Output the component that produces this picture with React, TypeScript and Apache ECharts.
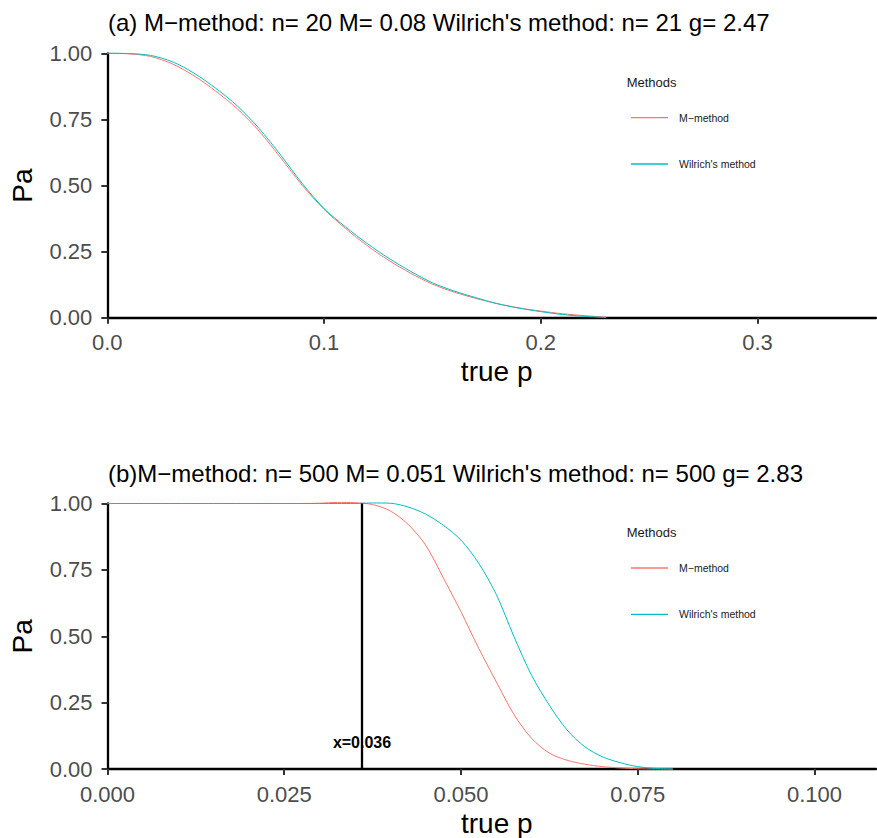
import React, { useEffect, useRef } from "react";
import * as echarts from "echarts";

// ---------- data ----------
const SERIES_NAMES = ["M\u2212method", "Wilrich's method"];
const COLORS = ["#F8766D", "#00BFC4"];

const TITLE_A = "(a) M\u2212method: n= 20 M= 0.08 Wilrich's method: n= 21 g= 2.47";
const TITLE_B = "(b)M\u2212method: n= 500 M= 0.051 Wilrich's method: n= 500 g= 2.83";
const LEGEND_TITLE = "Methods";
const X_NAME = "true p";
const Y_NAME = "Pa";

// panel (a)
const P_TOP = [0, 0.01, 0.02, 0.03, 0.04, 0.05, 0.06, 0.07, 0.08, 0.09, 0.1, 0.11, 0.12, 0.13, 0.14, 0.15, 0.16, 0.17, 0.18, 0.19, 0.2, 0.21, 0.22, 0.23];
const PA_TOP_M = [1.0, 0.998, 0.988, 0.96, 0.915, 0.857, 0.79, 0.706, 0.605, 0.5, 0.41, 0.337, 0.272, 0.216, 0.168, 0.127, 0.097, 0.073, 0.053, 0.037, 0.025, 0.015, 0.008, 0.002];
const PA_TOP_W = [1.0, 0.999, 0.992, 0.968, 0.925, 0.868, 0.801, 0.716, 0.615, 0.507, 0.413, 0.343, 0.28, 0.224, 0.175, 0.132, 0.101, 0.076, 0.053, 0.036, 0.023, 0.012, 0.005, 0.001];
const X_TICKS_TOP = [0, 0.1, 0.2, 0.3];
const X_MAX_TOP = 0.3547;

// panel (b)
const P_BOT = [0, 0.0025, 0.005, 0.0075, 0.01, 0.0125, 0.015, 0.0175, 0.02, 0.0225, 0.025, 0.0275, 0.03, 0.0325, 0.035, 0.0375, 0.04, 0.0425, 0.045, 0.0475, 0.05, 0.0525, 0.055, 0.0575, 0.06, 0.0625, 0.065, 0.0675, 0.07, 0.0725, 0.075, 0.0775, 0.08];
const PA_BOT_M = [1, 1, 1, 1, 1, 1, 1, 1, 1, 1, 1, 1, 1.001, 1.004, 1.003, 0.996, 0.972, 0.922, 0.843, 0.72, 0.592, 0.455, 0.328, 0.205, 0.115, 0.06, 0.033, 0.018, 0.009, 0.004, 0.001, 0, 0];
const PA_BOT_W = [1, 1, 1, 1, 1, 1, 1, 1, 1, 1, 1, 1, 1, 1, 1, 1.002, 1.001, 0.987, 0.96, 0.918, 0.862, 0.775, 0.657, 0.498, 0.352, 0.24, 0.147, 0.084, 0.046, 0.024, 0.009, 0.002, 0];
const X_TICKS_BOT = [0, 0.025, 0.05, 0.075, 0.1];
const X_MAX_BOT = 0.1087;
const VLINE_X = 0.036;
const VLINE_LABEL = "x=0.036";
const VLINE_LABEL_Y = 0.1;

const Y_TICKS = [0, 0.25, 0.5, 0.75, 1];

// ---------- helpers ----------
const FONT = "'Liberation Sans', Arial, Helvetica, sans-serif";
const zip = (xs: number[], ys: number[]) => ys.map((y, i) => [xs[i], y]);

function xAxisCfg(gridIndex: number, max: number, ticks: number[], digits: number) {
  return {
    type: "value",
    gridIndex,
    min: 0,
    max,
    name: X_NAME,
    nameLocation: "middle",
    nameGap: 40,
    nameTextStyle: { fontSize: 28, color: "#000", fontFamily: FONT, padding: [0, 0, 0, 10] },
    axisLine: { show: true, lineStyle: { color: "#000", width: 2.3 } },
    axisTick: { show: true, customValues: ticks, length: 6, lineStyle: { color: "#333", width: 2 } },
    axisLabel: {
      customValues: ticks,
      formatter: (v: number) => v.toFixed(digits),
      fontSize: 22,
      color: "#4D4D4D",
      margin: 14,
      fontFamily: FONT,
    },
    splitLine: { show: false },
  };
}

function yAxisCfg(gridIndex: number, max: number) {
  return {
    type: "value",
    gridIndex,
    min: 0,
    max,
    name: Y_NAME,
    nameLocation: "middle",
    nameGap: 71,
    nameTextStyle: { fontSize: 28, color: "#000", fontFamily: FONT },
    axisLine: { show: true, lineStyle: { color: "#000", width: 2.3 } },
    axisTick: { show: true, customValues: Y_TICKS, length: 6, lineStyle: { color: "#333", width: 2 } },
    axisLabel: {
      customValues: Y_TICKS,
      formatter: (v: number) => v.toFixed(2),
      fontSize: 22,
      color: "#4D4D4D",
      margin: 15,
      fontFamily: FONT,
    },
    splitLine: { show: false },
  };
}

function legendCfg(top: number) {
  return {
    data: SERIES_NAMES,
    orient: "vertical",
    left: 631,
    top,
    padding: 0,
    icon: "rect",
    itemWidth: 37,
    itemHeight: 1.3,
    itemGap: 32.3,
    selectedMode: false,
    textStyle: { fontSize: 10.5, color: "#1A1A1A", fontFamily: FONT, lineHeight: 14, padding: [0, 0, 0, 6] },
  };
}

function textEl(text: string, x: number, y: number, size: number, fill: string) {
  return {
    type: "text",
    x,
    y,
    silent: true,
    style: { text, fill, font: `${size}px ${FONT}`, verticalAlign: "middle", align: "left" },
  };
}

export default function App() {
  const ref = useRef<HTMLDivElement>(null);

  useEffect(() => {
    if (!ref.current) return;
    const chart = echarts.init(ref.current, undefined, { renderer: "svg" });

    const lineSeries = (name: string, color: string, data: number[][], idx: number, extra: any = {}) => ({
      type: "line",
      name,
      xAxisIndex: idx,
      yAxisIndex: idx,
      data,
      showSymbol: false,
      symbol: "none",
      smooth: 0.3,
      clip: false,
      lineStyle: { color, width: 1 },
      itemStyle: { color },
      ...extra,
    });

    chart.setOption({
      animation: false,
      backgroundColor: "#fff",
      textStyle: { fontFamily: FONT },
      grid: [
        { left: 107.3, top: 53.3, width: 768.7, height: 264.4 },
        { left: 107.5, top: 503.5, width: 768.5, height: 266.5 },
      ],
      xAxis: [xAxisCfg(0, X_MAX_TOP, X_TICKS_TOP, 1), xAxisCfg(1, X_MAX_BOT, X_TICKS_BOT, 3)],
      yAxis: [yAxisCfg(0, 1), yAxisCfg(1, 1)],
      legend: [legendCfg(110.7), legendCfg(561)],
      graphic: [
        textEl(TITLE_A, 108, 22.7, 24, "#000"),
        textEl(TITLE_B, 108, 473.3, 24, "#000"),
        textEl(LEGEND_TITLE, 626.7, 82, 13, "#1A1A1A"),
        textEl(LEGEND_TITLE, 626.7, 532.5, 13, "#1A1A1A"),
      ],
      series: [
        lineSeries(SERIES_NAMES[0], COLORS[0], zip(P_TOP, PA_TOP_M), 0),
        lineSeries(SERIES_NAMES[1], COLORS[1], zip(P_TOP, PA_TOP_W), 0),
        lineSeries(SERIES_NAMES[0], COLORS[0], zip(P_BOT, PA_BOT_M), 1, {
          markLine: {
            silent: true,
            symbol: "none",
            label: { show: false },
            lineStyle: { color: "#000", width: 2.3, type: "solid" },
            data: [[{ coord: [VLINE_X, 0] }, { coord: [VLINE_X, 1] }]],
          },
          markPoint: {
            silent: true,
            data: [
              {
                coord: [VLINE_X, VLINE_LABEL_Y],
                symbol: "circle",
                symbolSize: 1,
                itemStyle: { color: "rgba(0,0,0,0)" },
                label: {
                  show: true,
                  position: "inside",
                  formatter: VLINE_LABEL,
                  fontSize: 16,
                  fontWeight: "bold",
                  color: "#000",
                  fontFamily: FONT,
                },
              },
            ],
          },
        }),
        lineSeries(SERIES_NAMES[1], COLORS[1], zip(P_BOT, PA_BOT_W), 1),
      ],
    });

    return () => chart.dispose();
  }, []);

  return (
    <div
      ref={ref}
      style={{ position: "fixed", left: 0, top: 0, width: 877, height: 838, background: "#fff" }}
    />
  );
}
